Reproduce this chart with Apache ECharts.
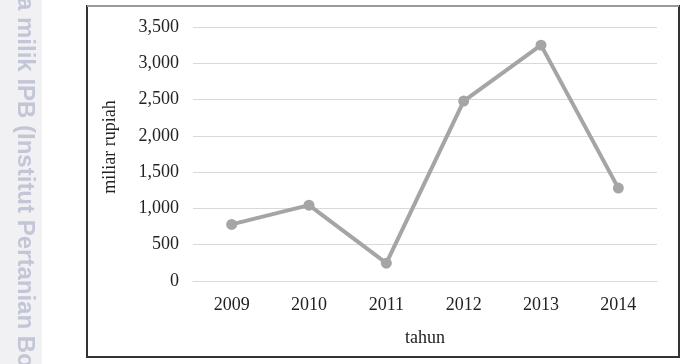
<!DOCTYPE html>
<html lang="en">
<head>
    <meta charset="UTF-8">
    <title>miliar rupiah per tahun</title>
    <script src="https://cdn.jsdelivr.net/npm/echarts@6/dist/echarts.min.js"></script>
    <style>
        html, body {
            margin: 0;
            border: 0;
            background: #fff;
        }

        #chart {
            width: 681px;
            height: 364px;
        }
    </style>
</head>
<body>
<div id="chart"></div>
<script type="text/javascript">
    const years = ['2009', '2010', '2011', '2012', '2013', '2014'];
    const values = [780, 1045, 245, 2480, 3250, 1280];
    const yTicks = {min: 0, max: 3500, interval: 500};

    const serif = '"Liberation Serif", "DejaVu Serif", serif';

    window.onload = () => {
        const chart = echarts.init(document.querySelector('#chart'), null, {renderer: 'canvas'});
        const option = {
            animation: false,
            backgroundColor: '#fff',
            graphic: [
                // scanned page margin with its watermark
                {
                    type: 'rect',
                    shape: {x: 0, y: 0, width: 42, height: 364},
                    style: {fill: '#f1f1f4'},
                    silent: true
                },
                {
                    type: 'text',
                    x: 25,
                    y: -3,
                    rotation: -Math.PI / 2,
                    style: {
                        text: 'a milik IPB (Institut Pertanian Bogor)',
                        fill: '#c3c6d6',
                        font: 'bold 24px "Liberation Sans", Arial, sans-serif',
                        textAlign: 'left',
                        textVerticalAlign: 'middle'
                    },
                    silent: true
                },
                // chart frame
                {
                    type: 'rect',
                    shape: {x: 87, y: 6, width: 592, height: 351},
                    style: {fill: 'none', stroke: '#333', lineWidth: 2},
                    silent: true
                },
                {
                    type: 'line',
                    shape: {x1: 87, y1: 6, x2: 679, y2: 6},
                    style: {stroke: '#999', lineWidth: 2},
                    silent: true
                }
            ],
            grid: {
                left: 193,
                right: 24,
                top: 27,
                bottom: 83
            },
            xAxis: {
                type: 'category',
                data: years,
                name: 'tahun',
                nameLocation: 'middle',
                nameGap: 48,
                nameTextStyle: {fontFamily: serif, fontSize: 18, color: '#222'},
                axisLine: {lineStyle: {color: '#d9d9d9', width: 1}},
                axisTick: {show: false},
                axisLabel: {fontFamily: serif, fontSize: 18, color: '#222', margin: 15}
            },
            yAxis: {
                type: 'value',
                min: yTicks.min,
                max: yTicks.max,
                interval: yTicks.interval,
                name: 'miliar rupiah',
                nameLocation: 'middle',
                nameGap: 74,
                nameTextStyle: {fontFamily: serif, fontSize: 18, color: '#222', padding: [0, 0, 0, 14]},
                axisLine: {show: false},
                axisTick: {show: false},
                splitLine: {lineStyle: {color: '#d9d9d9', width: 1}},
                axisLabel: {
                    fontFamily: serif,
                    fontSize: 18,
                    color: '#222',
                    margin: 14,
                    formatter: (v) => v.toLocaleString('en-US')
                }
            },
            series: [
                {
                    type: 'line',
                    data: values,
                    symbol: 'circle',
                    symbolSize: 11,
                    lineStyle: {color: '#a5a5a5', width: 4},
                    itemStyle: {color: '#a5a5a5'}
                }
            ]
        };
        chart.setOption(option, true);
    };
</script>
</body>
</html>
